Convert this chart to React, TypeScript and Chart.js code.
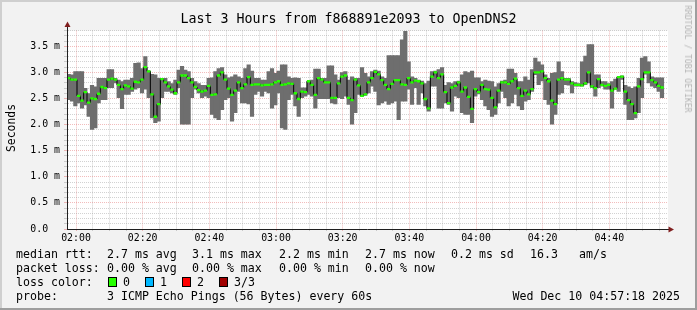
import React, { useEffect, useRef } from "react";
import { Chart, registerables } from "chart.js";

Chart.register(...registerables);

const MONO = "'DejaVu Sans Mono', monospace";

// ---- time axis (minutes since midnight) ----
const startMinute = 117.3; // 01:57:18
const endMinute = 297.3; // 04:57:18
const xLabelMinutes = [120, 140, 160, 180, 200, 220, 240, 260, 280];
const xTickLabels = ["02:00", "02:20", "02:40", "03:00", "03:20", "03:40", "04:00", "04:20", "04:40"];

// ---- value axis (ms) ----
const yMax = 3.8;
const yLabelValues = [0, 0.5, 1, 1.5, 2, 2.5, 3, 3.5];
const yTickLabels = ["0.0  ", "0.5 m", "1.0 m", "1.5 m", "2.0 m", "2.5 m", "3.0 m", "3.5 m"];

// ---- series (ms), one value per minute ----
const medianRtt = [
  2.89, 2.86, 2.86, 2.55, 2.46, 2.62, 2.42, 2.50, 2.49, 2.59, 2.72, 2.70, 2.86, 2.88, 2.86, 2.76, 2.68, 2.75, 2.73, 2.69,
  2.82, 2.81, 2.86, 3.10, 3.02, 2.58, 2.15, 2.39, 2.87, 2.81, 2.73, 2.67, 2.60, 2.81, 2.94, 2.94, 2.89,
  2.81, 2.72, 2.66, 2.63, 2.65, 2.74, 2.57, 2.58, 2.94, 3.00, 2.86, 2.69, 2.57, 2.65, 2.81, 2.70, 2.77, 2.91, 2.76,
  2.77, 2.77, 2.75, 2.76, 2.76, 2.77, 2.81, 2.83, 2.76, 2.77, 2.79, 2.78, 2.60, 2.49, 2.63, 2.62,
  2.83, 2.76, 2.57, 2.89, 2.86, 2.81, 2.81, 2.51, 2.51, 2.79, 2.92, 2.94, 2.51, 2.47, 2.86, 2.75, 2.55, 2.58, 2.81, 2.89,
  3.01, 2.96, 2.85, 2.76, 2.68, 2.78, 2.85, 2.85, 2.77, 2.76, 2.89, 2.81, 2.84, 2.83, 2.79, 2.49,
  2.31, 2.92, 3.00, 2.89, 2.96, 2.62, 2.41, 2.71, 2.74, 2.81, 2.63, 2.71, 2.53, 2.30, 2.68, 2.62, 2.76, 2.68, 2.67, 2.51,
  2.33, 2.65, 2.81, 2.81, 2.78, 2.83, 2.88, 2.70, 2.55, 2.65, 2.58, 2.68, 3.00, 3.00, 3.02, 2.89,
  2.83, 2.46, 2.39, 2.86, 2.89, 2.86, 2.86, 2.79, 2.76, 2.76, 2.75, 2.79, 3.00, 2.73, 2.70, 2.87, 2.76, 2.74, 2.76, 2.65,
  2.69, 2.91, 2.92, 2.63, 2.47, 2.39, 2.22, 2.73, 2.87, 3.00, 3.00, 2.85, 2.81, 2.74, 2.71,
];
const minRtt = [
  2.47, 2.44, 2.35, 2.41, 2.31, 2.37, 2.15, 1.90, 1.93, 2.41, 2.47, 2.47, 2.70, 2.70, 2.79, 2.51, 2.30, 2.57, 2.57, 2.63,
  2.67, 2.70, 2.60, 2.67, 2.51, 2.12, 2.03, 2.06, 2.51, 2.63, 2.63, 2.60, 2.57, 2.70, 2.00, 2.00, 2.00,
  2.51, 2.67, 2.60, 2.51, 2.54, 2.51, 2.19, 2.12, 2.09, 2.28, 2.47, 2.51, 2.06, 2.22, 2.63, 2.41, 2.41, 2.39, 2.15,
  2.57, 2.63, 2.54, 2.63, 2.60, 2.31, 2.37, 2.60, 1.93, 1.90, 2.47, 2.57, 2.35, 2.15, 2.51, 2.54,
  2.57, 2.54, 2.31, 2.49, 2.49, 2.49, 2.49, 2.41, 2.39, 2.51, 2.49, 2.54, 2.38, 2.00, 2.22, 2.57, 2.54, 2.55, 2.60, 2.73,
  2.63, 2.37, 2.41, 2.44, 2.38, 2.41, 2.44, 2.09, 2.44, 2.44, 2.67, 2.38, 2.70, 2.38, 2.60, 2.35,
  2.25, 2.73, 2.73, 2.31, 2.31, 2.41, 2.38, 2.25, 2.54, 2.51, 2.22, 2.19, 2.19, 2.03, 2.54, 2.58, 2.47, 2.35, 2.28, 2.15,
  2.19, 2.41, 2.63, 2.51, 2.35, 2.41, 2.57, 2.35, 2.28, 2.44, 2.47, 2.63, 2.95, 2.76, 2.83, 2.47,
  2.38, 2.00, 2.19, 2.57, 2.60, 2.76, 2.75, 2.60, 2.73, 2.73, 2.73, 2.76, 2.79, 2.70, 2.54, 2.70, 2.73, 2.67, 2.67, 2.31,
  2.67, 2.63, 2.86, 2.38, 2.09, 2.09, 2.12, 2.22, 2.51, 2.96, 2.79, 2.73, 2.70, 2.63, 2.51,
];
const maxRtt = [
  2.97, 2.96, 3.02, 3.02, 3.02, 2.70, 2.60, 2.76, 2.73, 2.89, 2.89, 2.89, 3.06, 3.06, 2.89, 2.86, 2.83, 2.86, 2.86, 2.89,
  3.18, 3.19, 3.08, 3.31, 3.03, 2.97, 2.96, 2.89, 2.89, 2.89, 2.83, 2.79, 2.86, 3.05, 3.12, 3.05, 3.02,
  2.89, 2.83, 2.79, 2.76, 2.76, 2.89, 2.90, 3.02, 3.08, 3.10, 2.96, 2.90, 2.92, 2.96, 2.92, 2.89, 3.08, 3.15, 3.03,
  2.89, 2.89, 2.86, 2.86, 3.02, 3.08, 2.99, 3.03, 3.15, 3.15, 2.92, 2.89, 2.90, 2.89, 2.71, 2.71,
  2.84, 2.86, 3.07, 3.07, 2.89, 2.89, 3.13, 3.13, 2.96, 2.86, 3.00, 3.02, 2.86, 2.92, 2.89, 2.89, 3.10, 2.99, 2.92, 3.02,
  3.05, 3.03, 2.92, 2.89, 3.33, 3.33, 3.33, 3.33, 3.63, 3.79, 3.21, 2.92, 2.89, 2.86, 2.84, 2.79,
  2.84, 3.02, 3.03, 3.06, 3.10, 2.76, 2.81, 2.79, 2.83, 2.84, 2.96, 3.02, 3.00, 3.03, 2.90, 2.90, 2.83, 2.86, 2.84, 2.83,
  2.73, 2.79, 2.84, 2.86, 3.07, 3.07, 2.99, 2.83, 2.83, 2.92, 2.86, 3.06, 3.28, 3.21, 3.15, 2.96,
  2.89, 2.99, 3.00, 3.21, 3.02, 2.89, 2.89, 2.83, 2.81, 2.79, 3.21, 3.32, 3.54, 3.54, 2.96, 2.96, 2.83, 2.83, 2.79, 2.83,
  2.88, 2.92, 2.94, 2.76, 2.73, 2.70, 2.73, 2.89, 3.28, 3.31, 3.21, 2.92, 2.90, 2.90, 2.90,
];

// ---- legend text ----
const titleText = "Last 3 Hours from f868891e2093 to OpenDNS2";
const rttStats = ["2.7 ms avg", "3.1 ms max", "2.2 ms min", "2.7 ms now", "0.2 ms sd", "16.3", "am/s"];
const lossStats = ["0.00 % avg", "0.00 % max", "0.00 % min", "0.00 % now"];
const lossColorLabels = ["0", "1", "2", "3/3"];
const lossColors = ["#26ff00", "#00b8ff", "#ff0000", "#a00000"];
const probeText = "3 ICMP Echo Pings (56 Bytes) every 60s";
const stampText = "Wed Dec 10 04:57:18 2025";

// ---- styles ----
const BACK = "#f2f2f2";
const SMOKE = "#6e6e6e";
const GREEN = "#26ff00";
const GRID = "rgba(143,143,143,0.4)";
const MGRID = "rgba(222,79,79,0.38)";
const AXIS = "#1f1f1f";
const ARROW = "#801f1f";

const rttX = [107, 192, 279, 365, 451, 530, 579];
const lossBoxX = [108, 145, 182, 219];

const xGrid: number[] = [];
for (let m = 120; m <= 295; m += 5) xGrid.push(m);
const yGrid: number[] = [];
for (let k = 0; k <= 38; k++) yGrid.push(k / 10);

const isMajorX = (v: number) => Math.abs(v % 20) < 1e-6;
const isMajorY = (v: number) => Math.round(v * 10) % 5 === 0;

const plotDecor = {
  id: "plotDecor",
  beforeDraw(chart: any) {
    const { ctx, chartArea } = chart;
    ctx.save();
    ctx.fillStyle = "#ffffff";
    ctx.fillRect(chartArea.left, chartArea.top, chartArea.right - chartArea.left + 1, chartArea.bottom - chartArea.top);
    ctx.restore();
  },
  afterDraw(chart: any) {
    const { ctx, chartArea } = chart;
    const l = Math.round(chartArea.left) + 0.5;
    const b = Math.round(chartArea.bottom) + 0.5;
    const t = chartArea.top;
    const r = chartArea.right;
    ctx.save();
    ctx.strokeStyle = AXIS;
    ctx.lineWidth = 1;
    ctx.beginPath();
    ctx.moveTo(l, t + 1);
    ctx.lineTo(l, t - 4);
    ctx.moveTo(r - 1, b);
    ctx.lineTo(r + 2, b);
    ctx.stroke();
    ctx.fillStyle = ARROW;
    ctx.beginPath();
    ctx.moveTo(l - 3, t - 3.5);
    ctx.lineTo(l + 3, t - 3.5);
    ctx.lineTo(l, t - 9);
    ctx.closePath();
    ctx.fill();
    ctx.beginPath();
    ctx.moveTo(r + 1.5, b - 3);
    ctx.lineTo(r + 1.5, b + 3);
    ctx.lineTo(r + 7, b);
    ctx.closePath();
    ctx.fill();
    ctx.restore();
  },
};

const txt = (left: number, centerY: number, size = 11.6): React.CSSProperties => ({
  position: "absolute",
  left,
  top: centerY - 7,
  height: 14,
  lineHeight: "14px",
  fontFamily: MONO,
  fontSize: size,
  color: "#000",
  whiteSpace: "pre",
});

export default function App() {
  const ref = useRef<HTMLCanvasElement>(null);

  useEffect(() => {
    document.body.style.margin = "0";
    const canvas = ref.current as HTMLCanvasElement;
    const xs = medianRtt.map((_, i) => startMinute + i + 0.5);
    const medPts = xs.map((x, i) => ({ x, y: medianRtt[i] }));
    const chart = new Chart(canvas, {
      type: "bar",
      data: {
        datasets: [
          {
            type: "line",
            label: "median",
            data: medPts,
            showLine: false,
            pointStyle: "line",
            pointRadius: 1.68,
            pointBorderWidth: 2.3,
            pointBorderColor: GREEN,
            pointBackgroundColor: GREEN,
            order: 1,
          } as any,
          {
            type: "line",
            label: "steps",
            data: medPts,
            stepped: "middle",
            borderColor: "#000000",
            borderWidth: 1,
            pointRadius: 0,
            fill: false,
            order: 2,
          } as any,
          {
            type: "bar",
            label: "smoke",
            data: xs.map((x, i) => ({ x, y: [minRtt[i], maxRtt[i]] })),
            backgroundColor: SMOKE,
            borderWidth: 0,
            barPercentage: 1.25,
            categoryPercentage: 1,
            grouped: false,
            order: 3,
          } as any,
        ],
      },
      options: {
        animation: false,
        responsive: false,
        devicePixelRatio: 1,
        events: [],
        layout: { padding: { top: 30.6, right: 30, bottom: 0, left: 0 } },
        plugins: { legend: { display: false }, tooltip: { enabled: false }, title: { display: false } },
        scales: {
          x: {
            type: "linear",
            min: startMinute,
            max: endMinute,
            offset: false,
            afterBuildTicks: (s: any) => {
              s.ticks = xGrid.map((v) => ({ value: v }));
            },
            afterFit: (s: any) => {
              s.height = 81;
            },
            grid: {
              offset: false,
              color: (c: any) => (c.tick && isMajorX(c.tick.value) ? MGRID : GRID),
              tickColor: (c: any) => (c.tick && isMajorX(c.tick.value) ? MGRID : GRID),
              lineWidth: 1,
              drawTicks: true,
              tickLength: 2,
            },
            border: { display: true, color: AXIS, width: 1, dash: [1, 1], z: 1 },
            ticks: {
              autoSkip: false,
              maxRotation: 0,
              minRotation: 0,
              padding: 1,
              color: "#000",
              font: { family: MONO, size: 9.9 },
              callback: (v: any) => {
                const k = xLabelMinutes.findIndex((m) => Math.abs(m - Number(v)) < 1e-6);
                return k >= 0 ? xTickLabels[k] : "";
              },
            },
          },
          y: {
            type: "linear",
            min: 0,
            max: yMax,
            afterBuildTicks: (s: any) => {
              s.ticks = yGrid.map((v) => ({ value: v }));
            },
            afterFit: (s: any) => {
              s.width = 67;
            },
            grid: {
              color: (c: any) => (c.tick && isMajorY(c.tick.value) ? MGRID : GRID),
              tickColor: (c: any) => (c.tick && isMajorY(c.tick.value) ? MGRID : GRID),
              lineWidth: 1,
              drawTicks: true,
              tickLength: 3,
            },
            border: { display: true, color: AXIS, width: 1, dash: [1, 1], z: 1 },
            ticks: {
              autoSkip: false,
              padding: 4,
              color: "#000",
              font: { family: MONO, size: 9.9 },
              callback: (v: any) => {
                const k = yLabelValues.findIndex((m) => Math.abs(m - Number(v)) < 1e-6);
                return k >= 0 ? yTickLabels[k] : "";
              },
            },
          },
        },
      } as any,
      plugins: [plotDecor],
    });
    return () => chart.destroy();
  }, []);

  return (
    <div style={{ position: "relative", width: 697, height: 310, background: BACK, overflow: "hidden" }}>
      <canvas ref={ref} width={697} height={310} style={{ position: "absolute", left: 0, top: 0, width: 697, height: 310 }} />
      {/* 3D frame */}
      <div style={{ position: "absolute", left: 0, top: 0, width: 697, height: 2, background: "#cfcfcf" }} />
      <div style={{ position: "absolute", left: 0, top: 0, width: 2, height: 310, background: "#cfcfcf" }} />
      <div style={{ position: "absolute", right: 0, top: 0, width: 2, height: 310, background: "#9e9e9e" }} />
      <div style={{ position: "absolute", left: 0, bottom: 0, width: 697, height: 2, background: "#9e9e9e" }} />

      <div style={{ position: "absolute", left: 0, top: 11, width: 697, textAlign: "center", lineHeight: "16px", fontFamily: MONO, fontSize: 13.3, color: "#000", whiteSpace: "pre" }}>
        {titleText}
      </div>
      <div style={{ position: "absolute", left: 11, top: 128, transform: "translate(-50%,-50%) rotate(-90deg)", fontFamily: MONO, fontSize: 11.4, lineHeight: "14px", color: "#000", whiteSpace: "pre" }}>
        Seconds
      </div>
      <div style={{ position: "absolute", left: 688, top: 59, transform: "translate(-50%,-50%) rotate(90deg)", fontFamily: MONO, fontSize: 8.1, lineHeight: "10px", color: "#b4b4b4", whiteSpace: "pre" }}>
        RRDTOOL / TOBI OETIKER
      </div>

      <div style={txt(16, 254)}>median rtt:</div>
      {rttStats.map((s, i) => (
        <div key={"r" + i} style={txt(rttX[i], 254)}>{s}</div>
      ))}
      <div style={txt(16, 268)}>packet loss:</div>
      {lossStats.map((s, i) => (
        <div key={"l" + i} style={txt(rttX[i], 268)}>{s}</div>
      ))}
      <div style={txt(16, 282)}>loss color:</div>
      {lossColorLabels.map((s, i) => (
        <React.Fragment key={"c" + i}>
          <div style={{ position: "absolute", left: lossBoxX[i], top: 277, width: 7, height: 8, border: "1px solid #000", background: lossColors[i] }} />
          <div style={txt(lossBoxX[i] + 15, 282)}>{s}</div>
        </React.Fragment>
      ))}
      <div style={txt(16, 296)}>probe:</div>
      <div style={txt(107, 296)}>{probeText}</div>
      <div style={{ ...txt(0, 296), left: undefined, right: 17 }}>{stampText}</div>
    </div>
  );
}
